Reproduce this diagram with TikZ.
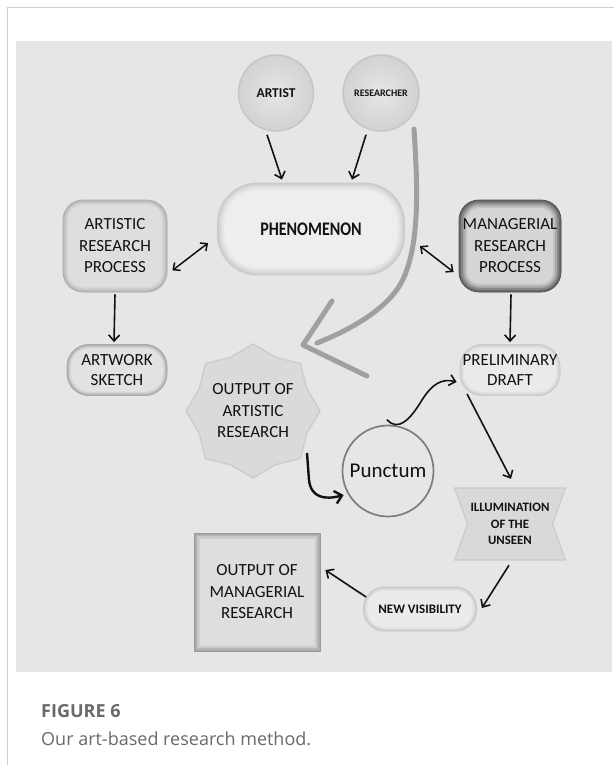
\documentclass[tikz,border=0pt]{standalone}
\usepackage{fontspec}
\setmainfont{Carlito}
\newfontfamily\capfont{Open Sans}
\usetikzlibrary{arrows.meta,shapes.geometric,calc}
\definecolor{framec}{HTML}{CFCFCF}
\definecolor{panelc}{HTML}{E6E6E6}
\definecolor{capc}{HTML}{6A6A6A}
\definecolor{brushc}{HTML}{A0A0A0}
\definecolor{inkc}{HTML}{111111}
\definecolor{bubin}{HTML}{E6E6E6}
\definecolor{bubout}{HTML}{D2D2D2}
\definecolor{bubdr}{HTML}{C6C6C6}
\definecolor{phenf}{HTML}{EEEEEE}
\definecolor{phene}{HTML}{C9C9C9}
\definecolor{artpf}{HTML}{DEDEDE}
\definecolor{artpe}{HTML}{B0B0B0}
\definecolor{manf}{HTML}{D5D5D5}
\definecolor{mane}{HTML}{555555}
\definecolor{artwf}{HTML}{E2E2E2}
\definecolor{artwe}{HTML}{A8A8A8}
\definecolor{prelf}{HTML}{EAEAEA}
\definecolor{prele}{HTML}{CBCBCB}
\definecolor{starf}{HTML}{DADADA}
\definecolor{stard}{HTML}{CDCDCD}
\definecolor{puncd}{HTML}{7D7D7D}
\definecolor{illf}{HTML}{D9D9D9}
\definecolor{illd}{HTML}{CBCBCB}
\definecolor{newf}{HTML}{EBEBEB}
\definecolor{newe}{HTML}{C8C8C8}
\definecolor{outmf}{HTML}{DEDEDE}
\definecolor{outme}{HTML}{9C9C9C}
\tikzset{
  arr/.style={draw=inkc, line width=1.6pt, -{Straight Barb[length=6pt,width=11pt]}},
  dbl/.style={draw=inkc, line width=1.5pt, {Straight Barb[length=5.5pt,width=10pt]}-{Straight Barb[length=5.5pt,width=10pt]}},
  lbl/.style={font=\fontsize{17}{21.5}\selectfont, align=center, text=inkc, inner sep=0pt},
  blbl/.style={font=\bfseries\fontsize{12.8}{16.5}\selectfont, align=center, text=inkc, inner sep=0pt},
  bubble/.style={ellipse, minimum width=75pt, minimum height=76pt, inner sep=0pt, inner color=bubin, outer color=bubout, draw=bubdr, line width=1.5pt, text=inkc},
  % inner shadow: #1 edge colour, #2 fill colour, #3 depth (number, pt), #4 corner radius
  inset/.style n args={4}{fill=#2, draw=#1, line width=0.8pt, path picture={
      \pgfmathsetmacro\insa{2*#3}\pgfmathsetmacro\insb{1.5*#3}\pgfmathsetmacro\insc{1.0*#3}\pgfmathsetmacro\insd{0.5*#3}
      \draw[draw=#1!15!#2, line width=\insa pt, rounded corners=#4] (path picture bounding box.south west) rectangle (path picture bounding box.north east);
      \draw[draw=#1!35!#2, line width=\insb pt, rounded corners=#4] (path picture bounding box.south west) rectangle (path picture bounding box.north east);
      \draw[draw=#1!60!#2, line width=\insc pt, rounded corners=#4] (path picture bounding box.south west) rectangle (path picture bounding box.north east);
      \draw[draw=#1!85!#2, line width=\insd pt, rounded corners=#4] (path picture bounding box.south west) rectangle (path picture bounding box.north east);}},
  procbox/.style={rectangle, rounded corners=20pt, minimum width=104pt, minimum height=92pt, lbl},
  pill/.style={rectangle, rounded corners=22pt, minimum width=100pt, minimum height=51pt, lbl, font=\fontsize{17}{20.5}\selectfont},
  brush/.style={draw=brushc, line width=5pt, line cap=round, line join=round},
}
\begin{document}
\begin{tikzpicture}[x=1pt,y=-1pt]
\useasboundingbox (0,0) rectangle (614,765);
\fill[white] (0,0) rectangle (614,765);
\draw[framec, line width=1pt] (7,765) -- (7,7.5) -- (614,7.5);
\fill[panelc] (16,41) rectangle (612,672);

% nodes
\node[bubble, font=\bfseries\fontsize{13.5}{15}\selectfont] (artist) at (276,93) {ARTIST};
\node[bubble, font=\bfseries\fontsize{10}{12}\selectfont] (resr) at (381,93) {RESEARCHER};
\node[rectangle, rounded corners=40pt, minimum width=187pt, minimum height=92pt, inset={phene}{phenf}{7}{40pt}, inner sep=0pt, text=inkc, font=\bfseries\fontsize{16}{18}\selectfont] (phen) at (311,229) {\scalebox{1}[1.2]{PHENOMENON}};
\node[procbox, inset={artpe}{artpf}{5}{20pt}] (artp) at (115,246) {ARTISTIC\\RESEARCH\\PROCESS};
\node[procbox, minimum width=102pt, inset={mane}{manf}{8}{20pt}] (manp) at (510,246) {MANAGERIAL\\RESEARCH\\PROCESS};
\node[pill, inset={artwe}{artwf}{4}{22pt}] (artw) at (117,370) {ARTWORK\\SKETCH};
\node[pill, inset={prele}{prelf}{4}{22pt}] (prel) at (510,370) {PRELIMINARY\\DRAFT};
\node[star, star points=8, star point ratio=1.15, minimum size=134pt, inner sep=0pt, fill=starf, draw=stard, line width=1.5pt] (outA) at (253,411) {};
\node[lbl] (outAt) at (outA.center) {OUTPUT OF\\ARTISTIC\\RESEARCH};
\node[circle, minimum size=91pt, inner sep=0pt, draw=puncd, line width=1.7pt, font=\fontsize{21}{24}\selectfont, text=inkc] (punc) at (388,471) {Punctum};
\coordinate (ilc) at (510,524);
\filldraw[fill=illf, draw=illd, line width=1.2pt] ($(ilc)+(-55.5,-36)$) -- ($(ilc)+(55.5,-36)$) -- ($(ilc)+(42.5,0)$) -- ($(ilc)+(55.5,36)$) -- ($(ilc)+(-55.5,36)$) -- ($(ilc)+(-42.5,0)$) -- cycle;
\node[blbl, minimum width=111pt, minimum height=72pt] (illum) at (ilc) {ILLUMINATION\\OF THE\\UNSEEN};
\node[rectangle, rounded corners=21pt, minimum width=113pt, minimum height=44pt, inset={newe}{newf}{4}{21pt}, blbl, font=\bfseries\fontsize{13}{15}\selectfont] (newv) at (420,609) {NEW VISIBILITY};
\node[rectangle, minimum width=126pt, minimum height=118pt, inset={outme}{outmf}{6}{0pt}, lbl] (outM) at (257,592) {OUTPUT OF\\MANAGERIAL\\RESEARCH};

% brush arrow
\coordinate (bs) at (414,129);
\coordinate (bt) at (303,345);
\draw[brush] (bs) .. controls (418,190) and (420,250) .. (400,285) .. controls (385,310) and (350,330) .. (317,343);
\draw[brush] (332,301) -- (bt) -- (367,376);

% connectors
\draw[arr] ($(artist.south)+(-9,3)$) -- ($(phen.north)+(-29,-3)$);
\draw[arr] ($(resr.south)+(-15,3)$) -- ($(phen.north)+(41,-3)$);
\draw[dbl] ($(artp.south east)+(5,-22)$) -- ($(phen.west)+(-9,14)$);
\draw[dbl] ($(phen.east)+(15,17)$) -- ($(manp.west)+(-5,26)$);
\draw[arr] ($(artp.south)+(0,2)$) -- ($(artw.north)+(-3,-2)$);
\draw[arr] ($(manp.south)+(1,2)$) -- ($(prel.north)+(0,-2)$);
\draw[arr] ($(punc.north)+(-1,-5)$) .. controls (398,432) and (410,420) .. (422,400) .. controls (432,384) and (442,378) .. ($(prel.west)+(-3,12)$);
\draw[arr] ($(prel.south)+(-43,-2)$) -- ($(illum.north)+(1,-9)$);
\draw[draw=inkc, line width=2.4pt, -{Straight Barb[length=7pt,width=13pt]}] ($(outA.center)+(54,42)$) -- (309,480) .. controls (311,498) and (325,500) .. ($(punc.west)+(2,24)$);
\draw[arr] ($(illum.south)+(-1,5)$) -- ($(newv.east)+(5,-1)$);
\draw[arr] ($(newv.west)+(3,-12)$) -- ($(outM.east)+(5,-22)$);

% caption
\node[anchor=base west, inner sep=0pt, font=\capfont\bfseries\fontsize{18}{20}\selectfont, text=capc] (fig) at (41,717) {FIGURE 6};
\node[anchor=base west, inner sep=0pt, font=\capfont\fontsize{18}{20}\selectfont, text=capc] (capt) at (41,745) {Our art-based research method.};
\end{tikzpicture}
\end{document}
